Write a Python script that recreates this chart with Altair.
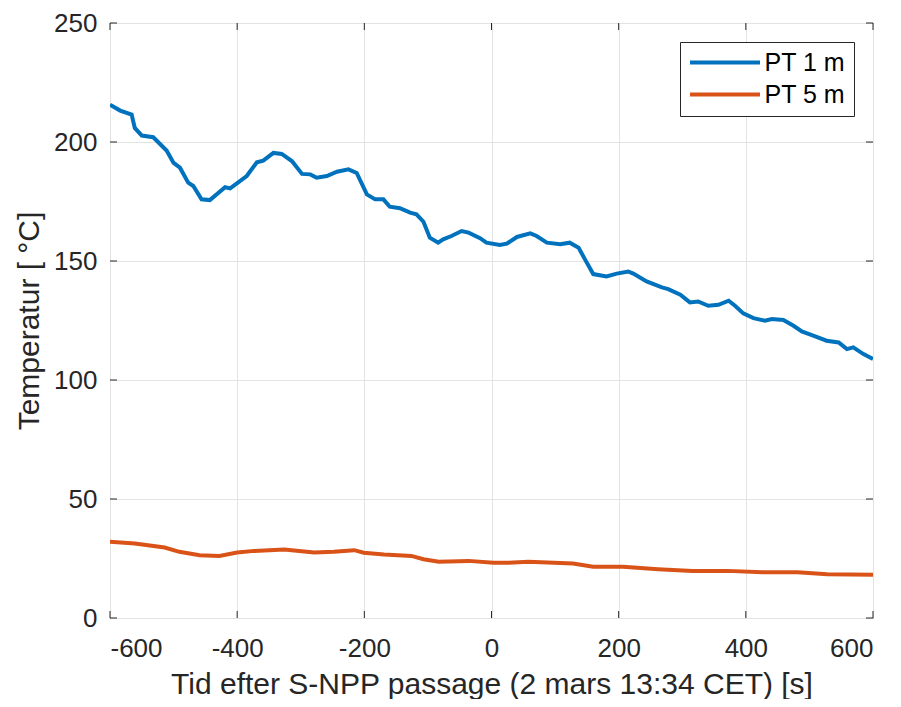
import altair as alt
import pandas as pd

series_names = ["PT 1 m", "PT 5 m"]
series_colors = ["#0072BD", "#D95319"]

t_pt1 = [-600, -584, -566, -561, -550, -532, -511, -500, -490, -477, -469, -456, -443,
         -419, -411, -385, -369, -359, -343, -330, -314, -298, -285, -275, -259, -243,
         -225, -212, -196, -183, -170, -160, -144, -128, -118, -107, -97, -84, -76, -63,
         -47, -36, -18, -8, 13, 24, 40, 61, 71, 87, 108, 123, 137, 147, 160, 181, 197,
         215, 223, 244, 268, 278, 297, 312, 325, 341, 357, 373, 383, 396, 412, 430, 441,
         459, 475, 488, 506, 527, 546, 559, 569, 585, 600]
v_pt1 = [215.7, 213.2, 211.5, 205.9, 202.7, 202.0, 196.4, 191.2, 189.2, 182.9, 181.5, 175.9,
         175.6, 181.0, 180.5, 185.7, 191.5, 192.2, 195.4, 195.0, 192.0, 186.6, 186.4, 185.0,
         185.7, 187.5, 188.5, 187.0, 178.0, 175.9, 175.9, 172.8, 172.2, 170.3, 169.6, 166.5,
         159.8, 157.7, 159.1, 160.5, 162.6, 161.9, 159.6, 157.7, 156.7, 157.3, 160.1, 161.6,
         160.5, 157.7, 157.0, 157.7, 155.6, 150.7, 144.5, 143.5, 144.7, 145.6, 144.7, 141.4,
         138.9, 138.2, 135.8, 132.6, 133.0, 131.2, 131.6, 133.3, 131.2, 128.0, 126.0, 124.9,
         125.6, 125.2, 122.8, 120.4, 118.6, 116.5, 115.8, 113.0, 113.7, 110.9, 108.8]

t_pt5 = [-600, -561, -514, -491, -459, -428, -400, -373, -326, -279, -248, -216, -201, -169,
         -126, -107, -83, -36, 3, 27, 58, 128, 160, 207, 262, 316, 371, 426, 481, 528, 600]
v_pt5 = [32.0, 31.3, 29.6, 27.8, 26.4, 26.1, 27.5, 28.2, 28.8, 27.5, 27.8, 28.5, 27.4, 26.7,
         26.1, 24.7, 23.6, 24.0, 23.2, 23.2, 23.6, 22.9, 21.5, 21.5, 20.5, 19.7, 19.8, 19.2,
         19.2, 18.4, 18.2]

x_ticks = [-600, -400, -200, 0, 200, 400, 600]
y_ticks = [0, 50, 100, 150, 200, 250]

x_title = "Tid efter S-NPP passage (2 mars 13:34 CET) [s]"
y_title = "Temperatur [ °C]"

W, H = 763, 595
FONT = "Liberation Sans"
TXT = "#262626"

df = pd.concat([
    pd.DataFrame({"t": t_pt1, "v": v_pt1, "serie": series_names[0], "ord": range(len(t_pt1))}),
    pd.DataFrame({"t": t_pt5, "v": v_pt5, "serie": series_names[1], "ord": range(len(t_pt5))}),
])

xscale = alt.Scale(domain=[-600, 600], nice=False, zero=False)
yscale = alt.Scale(domain=[0, 250], nice=False, zero=False)

lines = alt.Chart(df).mark_line(strokeWidth=4, clip=True).encode(
    x=alt.X("t:Q", scale=xscale, title=x_title,
            axis=alt.Axis(values=x_ticks, tickSize=0, labelPadding=17, titlePadding=8,
                          labelExpr="toString(datum.value)",
                          grid=True, domain=False)),
    y=alt.Y("v:Q", scale=yscale, title=y_title,
            axis=alt.Axis(values=y_ticks, tickSize=0, labelPadding=13, titlePadding=9,
                          labelExpr="toString(datum.value)",
                          grid=True, domain=False)),
    color=alt.Color("serie:N", scale=alt.Scale(domain=series_names, range=series_colors),
                    legend=alt.Legend(title=None, orient="none", legendX=570, legendY=19,
                                      symbolType="M-4,0L4,0", symbolSize=306.25,
                                      symbolOffset=24.5,
                                      symbolStrokeWidth=4, labelFontSize=25,
                                      labelFont=FONT, labelColor="#000000",
                                      rowPadding=6, padding=8, labelOffset=27,
                                      strokeColor=TXT, fillColor="white")),
    order="ord:Q",
)

xt = pd.DataFrame({"x": x_ticks})
yt = pd.DataFrame({"y": y_ticks})
bottom_ticks = alt.Chart(xt).mark_rule(color=TXT, strokeWidth=1).encode(
    x=alt.X("x:Q", scale=xscale), y=alt.value(H), y2=alt.value(H - 7))
top_ticks = alt.Chart(xt).mark_rule(color=TXT, strokeWidth=1).encode(
    x=alt.X("x:Q", scale=xscale), y=alt.value(0), y2=alt.value(7))
left_ticks = alt.Chart(yt).mark_rule(color=TXT, strokeWidth=1).encode(
    y=alt.Y("y:Q", scale=yscale), x=alt.value(0), x2=alt.value(7))
right_ticks = alt.Chart(yt).mark_rule(color=TXT, strokeWidth=1).encode(
    y=alt.Y("y:Q", scale=yscale), x=alt.value(W), x2=alt.value(W - 7))

chart = alt.layer(lines, bottom_ticks, top_ticks, left_ticks, right_ticks).properties(
    width=W, height=H,
    autosize=alt.AutoSizeParams(type="none"),
    padding={"left": 102, "top": 15, "right": 20, "bottom": 81},
).configure(
    background="white",
).configure_view(
    stroke=TXT, strokeWidth=1,
).configure_axis(
    labelFont=FONT, labelFontSize=26, labelColor=TXT,
    titleFont=FONT, titleFontSize=30, titleColor=TXT, titleFontWeight="normal",
    gridColor="#e3e3e3", gridWidth=1,
)

chart.save("out.html", embed_options={"renderer": "svg", "actions": False})
